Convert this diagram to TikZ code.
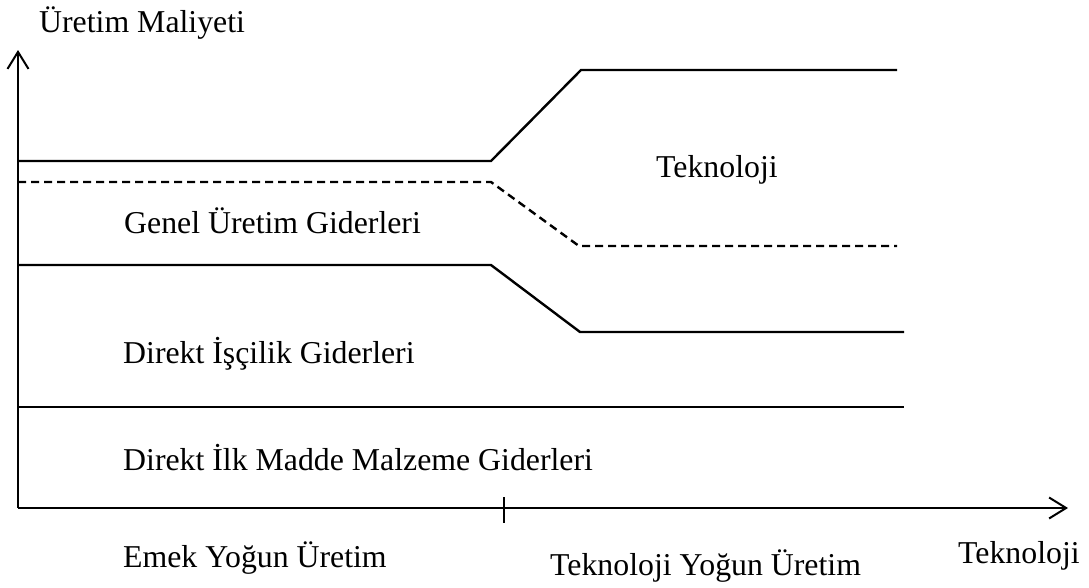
\documentclass[tikz,border=0pt]{standalone}
\usepackage{fontspec}
\setmainfont{Liberation Serif}
\usetikzlibrary{arrows.meta}
\begin{document}
\begin{tikzpicture}[x=1pt,y=-1pt,
  lbl/.style={anchor=base west,inner sep=0pt,font=\fontsize{31.8}{38}\selectfont},
  curve/.style={line width=2.4pt},
  axisline/.style={line width=2.4pt},
  barb/.style={-{Straight Barb[length=17pt,width=21pt,line width=2pt]}}]
\useasboundingbox (0,0) rectangle (1089,587);
% axes
\coordinate (O) at (18,508);
\coordinate (Ytip) at (18,50);
\coordinate (Xtip) at (1068,508);
\draw[axisline,barb] (O) -- (Ytip);
\draw[axisline,barb] (O) -- (Xtip);
\coordinate (tickT) at (504,497);
\coordinate (tickB) at (504,523);
\draw[line width=2pt] (tickT) -- (tickB);
% curves
\draw[curve] (18,161) -- (491,161) -- (581,70) -- (897,70);
\draw[curve,dash pattern=on 8pt off 5pt] (18,182) -- (491,182) -- (579,246) -- (897,246);
\draw[curve] (18,265) -- (491,265) -- (580,332) -- (904,332);
\draw[curve] (18,407) -- (904,407);
% labels
\node[lbl] (ylab) at (39,32) {Üretim Maliyeti};
\node[lbl] (tek) at (656,177) {Teknoloji};
\node[lbl] (genel) at (124,233) {Genel Üretim Giderleri};
\node[lbl] (iscilik) at (123,363) {Direkt İşçilik Giderleri};
\node[lbl] (ilk) at (123,470) {Direkt İlk Madde Malzeme Giderleri};
\node[lbl] (emek) at (123,567) {Emek Yoğun Üretim};
\node[lbl] (tyu) at (550,575) {Teknoloji Yoğun Üretim};
\node[lbl] (xlab) at (958,563) {Teknoloji};
\end{tikzpicture}
\end{document}
